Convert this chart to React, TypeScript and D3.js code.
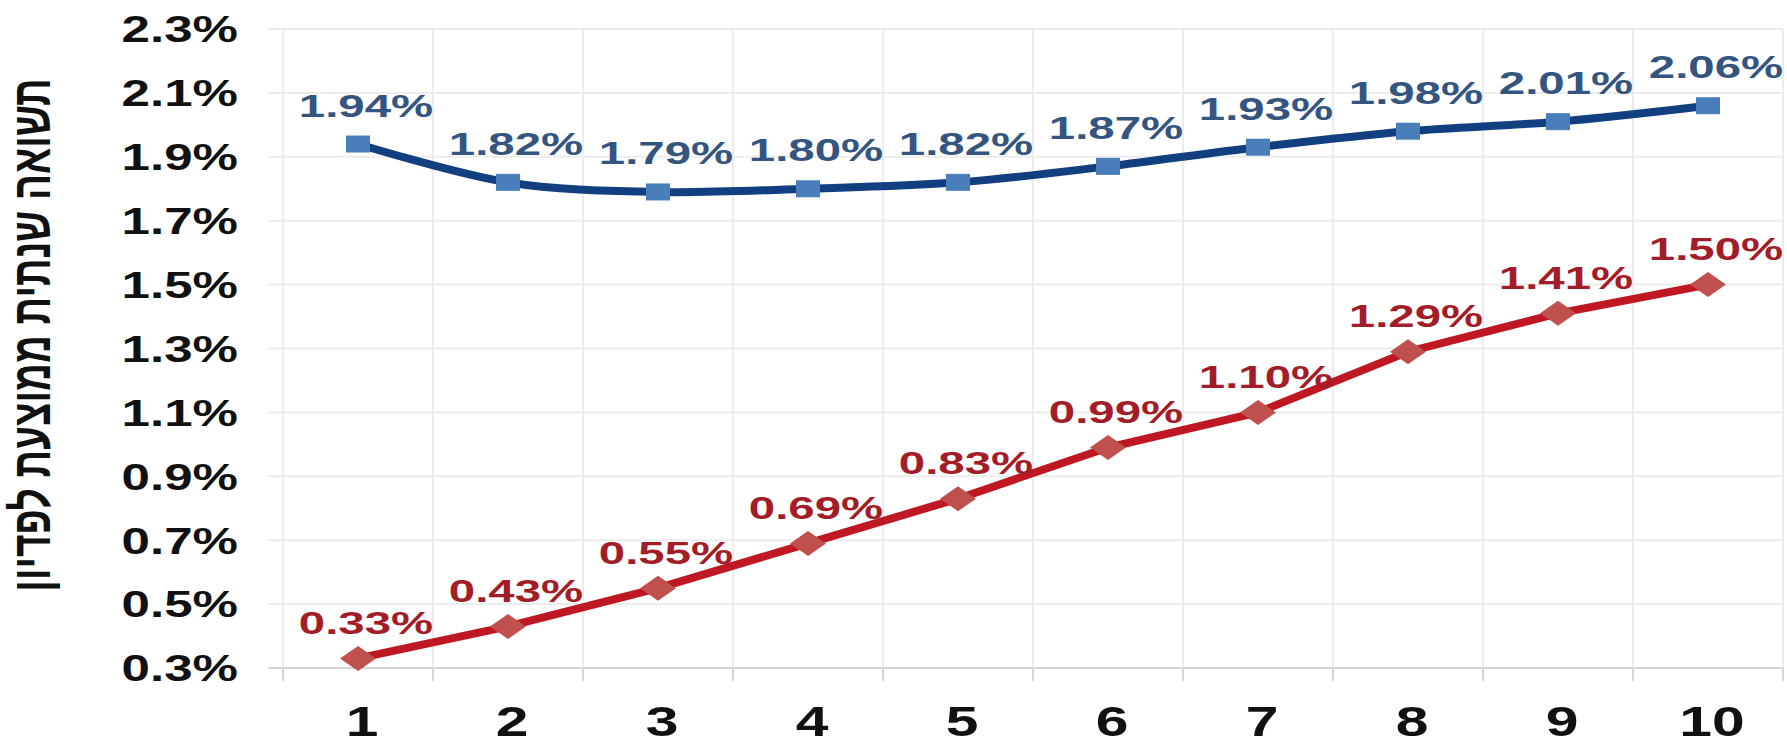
import * as d3 from "d3";

const categories = ["1", "2", "3", "4", "5", "6", "7", "8", "9", "10"];
const blueValues = [1.94, 1.82, 1.79, 1.8, 1.82, 1.87, 1.93, 1.98, 2.01, 2.06];
const redValues = [0.33, 0.43, 0.55, 0.69, 0.83, 0.99, 1.1, 1.29, 1.41, 1.5];
const yTicks = [0.3, 0.5, 0.7, 0.9, 1.1, 1.3, 1.5, 1.7, 1.9, 2.1, 2.3];
const yTitle = "תשואה שנתית ממוצעת לפדיון";

const width = 1787;
const height = 751;
const font = "'Liberation Sans', Arial, sans-serif";

// the source picture is stretched sideways, so text and markers are too
const stretch = 1.4;

export default function App() {
    const x = d3.scaleBand<string>().domain(categories).range([283, 1783]);
    const y = d3.scaleLinear().domain([0.3, 2.3]).range([668, 29]);
    const cx = (c: string) => (x(c) ?? 0) + x.bandwidth() / 2;

    const blueLine = d3
        .line<number>()
        .x((_, i) => cx(categories[i]))
        .y((d) => y(d))
        .curve(d3.curveCatmullRom.alpha(0.5));
    const redLine = d3
        .line<number>()
        .x((_, i) => cx(categories[i]))
        .y((d) => y(d));

    const bounds = [...categories.map((c) => x(c) ?? 0), x.range()[1]];

    return (
        <svg width={width} height={height} style={{ display: "block", position: "absolute", left: 0, top: 0 }}>
            <rect width={width} height={height} fill="#ffffff" />

            {/* grid */}
            {yTicks.map((t) => (
                <line key={t} x1={268} x2={1783} y1={y(t)} y2={y(t)} stroke={t === 0.3 ? "#d4d4d4" : "#ececec"} strokeWidth={2} />
            ))}
            {bounds.map((b, i) => (
                <g key={i}>
                    <line x1={b} x2={b} y1={y(2.3)} y2={y(0.3)} stroke="#ececec" strokeWidth={2} />
                    <line x1={b} x2={b} y1={y(0.3)} y2={y(0.3) + 13} stroke="#d4d4d4" strokeWidth={2} />
                </g>
            ))}

            {/* y axis labels */}
            {yTicks.map((t) => (
                <text
                    key={t}
                    transform={`translate(238, ${y(t)}) scale(1.38, 1)`}
                    textAnchor="end"
                    dy="0.36em"
                    fontFamily={font}
                    fontWeight="bold"
                    fontSize={37}
                    fill="#111111"
                >
                    {t.toFixed(1)}%
                </text>
            ))}

            {/* x axis labels */}
            {categories.map((c) => (
                <text
                    key={c}
                    transform={`translate(${cx(c) + 4}, 721) scale(${stretch}, 1)`}
                    textAnchor="middle"
                    dy="0.36em"
                    fontFamily={font}
                    fontWeight="bold"
                    fontSize={42}
                    fill="#111111"
                >
                    {c}
                </text>
            ))}

            {/* y title */}
            <text
                transform={`translate(31, 335) scale(${stretch}, 1) rotate(-90)`}
                textAnchor="middle"
                dy="0.36em"
                fontFamily={font}
                fontWeight="bold"
                fontSize={38.5}
                fill="#111111"
                direction="rtl"
            >
                {yTitle}
            </text>

            {/* blue series */}
            <path d={blueLine(blueValues) ?? undefined} fill="none" stroke="#113f80" strokeWidth={8} />
            {blueValues.map((v, i) => (
                <rect key={i} x={cx(categories[i]) - 12} y={y(v) - 8.5} width={24} height={17} fill="#4a7ebb" />
            ))}

            {/* red series */}
            <path d={redLine(redValues) ?? undefined} fill="none" stroke="#c01822" strokeWidth={8} />
            {redValues.map((v, i) => (
                <path
                    key={i}
                    transform={`translate(${cx(categories[i])}, ${y(v)})`}
                    d="M-18,0L0,-12.5L18,0L0,12.5Z"
                    fill="#c0504d"
                />
            ))}

            {/* data labels */}
            {blueValues.map((v, i) => (
                <text
                    key={i}
                    transform={`translate(${cx(categories[i]) + 8}, ${y(v) - 39}) scale(1.48, 1)`}
                    textAnchor="middle"
                    dy="0.36em"
                    fontFamily={font}
                    fontWeight="bold"
                    fontSize={32}
                    fill="#34557f"
                >
                    {v.toFixed(2)}%
                </text>
            ))}
            {redValues.map((v, i) => (
                <text
                    key={i}
                    transform={`translate(${cx(categories[i]) + 8}, ${y(v) - 36}) scale(1.48, 1)`}
                    textAnchor="middle"
                    dy="0.36em"
                    fontFamily={font}
                    fontWeight="bold"
                    fontSize={32}
                    fill="#a21d27"
                >
                    {v.toFixed(2)}%
                </text>
            ))}
        </svg>
    );
}
